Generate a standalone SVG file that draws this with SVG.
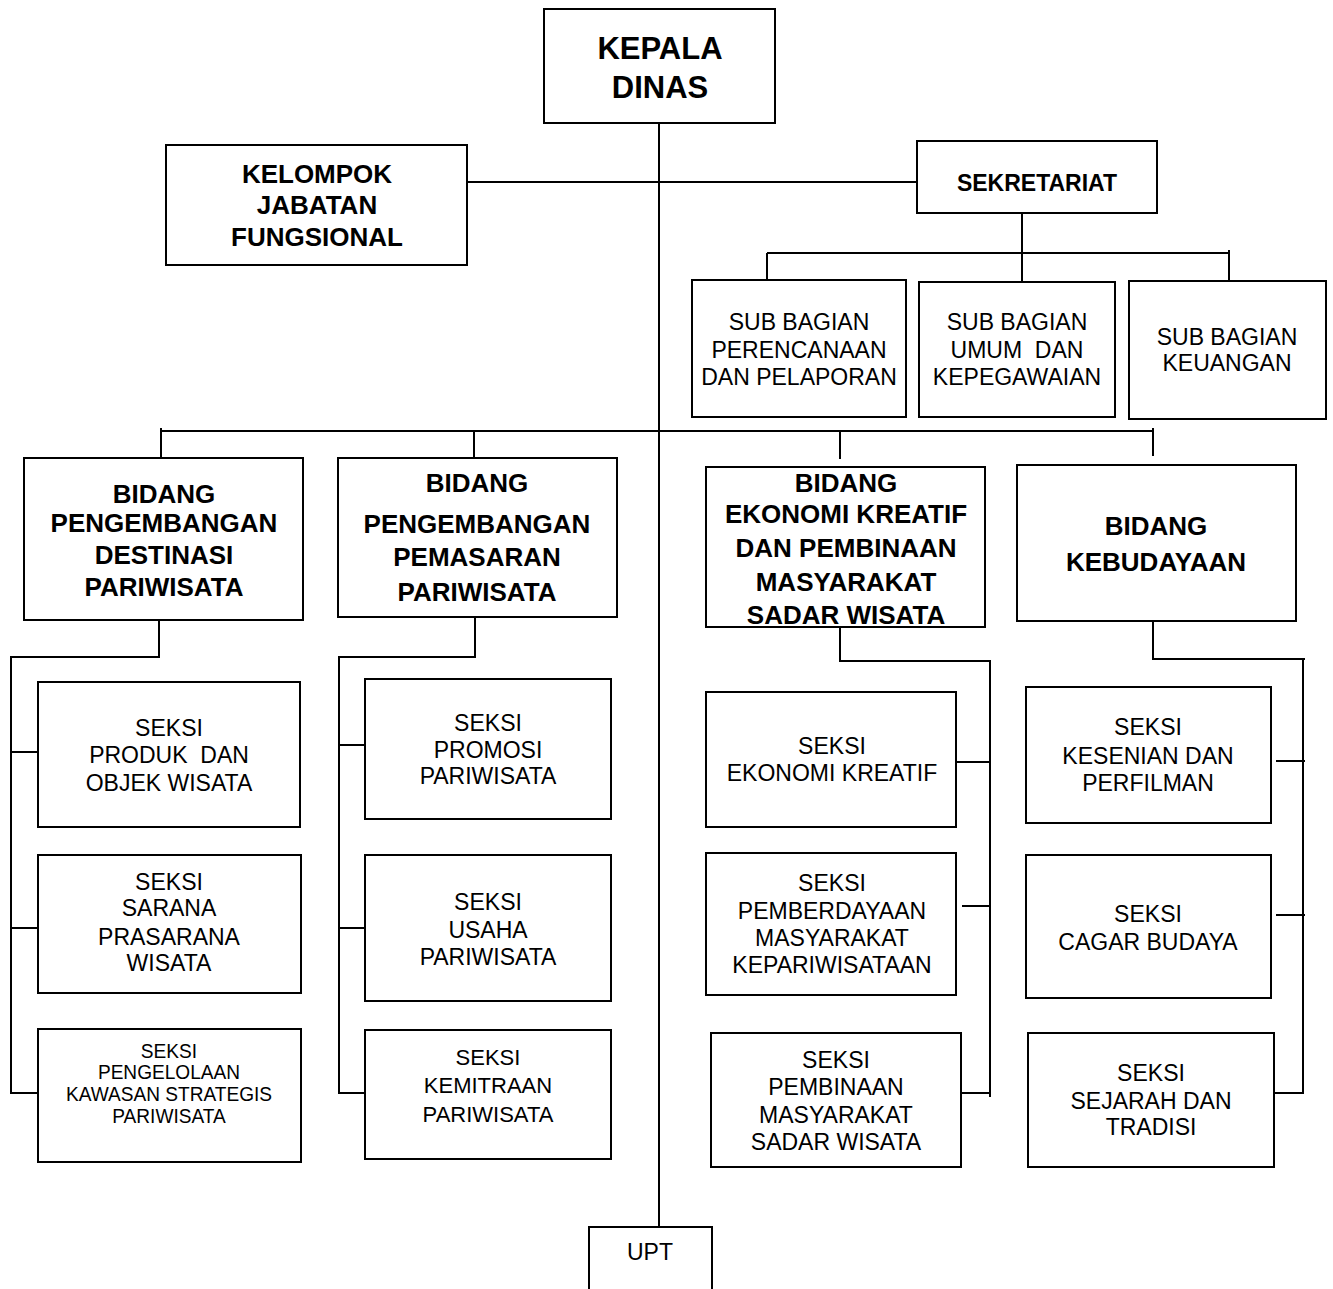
<svg xmlns="http://www.w3.org/2000/svg" width="1333" height="1289" viewBox="0 0 1333 1289">
<style>
.box{fill:#fff;stroke:#000;stroke-width:2}
.ln{fill:none;stroke:#000;stroke-width:2}
text{font-family:"Liberation Sans",Arial,sans-serif;text-anchor:middle;fill:#000;white-space:pre}
.r{font-size:23px}
.s{font-size:22px}
.xs{font-size:20px}
.b{font-size:26px;font-weight:bold}
.bs{font-size:23px;font-weight:bold}
.bl{font-size:31px;font-weight:bold}
</style>
<rect width="1333" height="1289" fill="#fff"/>
<g id="connectors" class="ln">
<path d="M659,120 V1227"/>
<path d="M467,182 H917"/>
<path d="M1022,213 V282 M767,253 H1229 M767,253 V282 M1229,250 V285"/>
<path d="M161,431 H1153 M161,428 V458 M474,431 V458 M840,431 V459 M1153,428 V456"/>
<path d="M159,620 V657 H11 V1093 H38 M11,752 H38 M11,928 H38"/>
<path d="M475,617 V657 H339 V1093 H365 M339,745 H365 M339,928 H365"/>
<path d="M840,627 V661 H990 V1097 M956,762 H990 M962,906 H990 M962,1093 H990"/>
<path d="M1153,621 V659 H1305 M1303,659 V1093 H1274 M1276,761 H1305 M1276,915 H1305"/>
</g>
<g id="kepala"><rect class="box" x="544" y="9" width="231" height="114"/><text class="bl" x="660" y="59">KEPALA</text><text class="bl" x="660" y="98">DINAS</text></g>
<g id="kelompok"><rect class="box" x="166" y="145" width="301" height="120"/><text class="b" x="317" y="183">KELOMPOK</text><text class="b" x="317" y="214">JABATAN</text><text class="b" x="317" y="246">FUNGSIONAL</text></g>
<g id="sekretariat"><rect class="box" x="917" y="141" width="240" height="72"/><text class="bs" x="1037" y="191">SEKRETARIAT</text></g>
<g id="sub1"><rect class="box" x="692" y="280" width="214" height="137"/><text class="r" x="799" y="330">SUB BAGIAN</text><text class="r" x="799" y="358">PERENCANAAN</text><text class="r" x="799" y="385">DAN PELAPORAN</text></g>
<g id="sub2"><rect class="box" x="919" y="282" width="196" height="135"/><text class="r" x="1017" y="330">SUB BAGIAN</text><text class="r" x="1017" y="358">UMUM  DAN</text><text class="r" x="1017" y="385">KEPEGAWAIAN</text></g>
<g id="sub3"><rect class="box" x="1129" y="281" width="197" height="138"/><text class="r" x="1227" y="345">SUB BAGIAN</text><text class="r" x="1227" y="371">KEUANGAN</text></g>
<g id="bidang1"><rect class="box" x="24" y="458" width="279" height="162"/><text class="b" x="164" y="503">BIDANG</text><text class="b" x="164" y="532">PENGEMBANGAN</text><text class="b" x="164" y="564">DESTINASI</text><text class="b" x="164" y="596">PARIWISATA</text></g>
<g id="bidang2"><rect class="box" x="338" y="458" width="279" height="159"/><text class="b" x="477" y="492">BIDANG</text><text class="b" x="477" y="533">PENGEMBANGAN</text><text class="b" x="477" y="566">PEMASARAN</text><text class="b" x="477" y="601">PARIWISATA</text></g>
<g id="bidang3"><rect class="box" x="706" y="467" width="279" height="160"/><text class="b" x="846" y="492">BIDANG</text><text class="b" x="846" y="523">EKONOMI KREATIF</text><text class="b" x="846" y="557">DAN PEMBINAAN</text><text class="b" x="846" y="591">MASYARAKAT</text><text class="b" x="846" y="624">SADAR WISATA</text></g>
<g id="bidang4"><rect class="box" x="1017" y="465" width="279" height="156"/><text class="b" x="1156" y="535">BIDANG</text><text class="b" x="1156" y="571">KEBUDAYAAN</text></g>
<g id="seksi-produk"><rect class="box" x="38" y="682" width="262" height="145"/><text class="r" x="169" y="736">SEKSI</text><text class="r" x="169" y="763">PRODUK  DAN</text><text class="r" x="169" y="791">OBJEK WISATA</text></g>
<g id="seksi-sarana"><rect class="box" x="38" y="855" width="263" height="138"/><text class="r" x="169" y="890">SEKSI</text><text class="r" x="169" y="916">SARANA</text><text class="r" x="169" y="945">PRASARANA</text><text class="r" x="169" y="971">WISATA</text></g>
<g id="seksi-pengelolaan"><rect class="box" x="38" y="1029" width="263" height="133"/><g transform="translate(169,0) scale(0.955,1) translate(-169,0)"><text class="xs" x="169" y="1058">SEKSI</text><text class="xs" x="169" y="1079">PENGELOLAAN</text><text class="xs" x="169" y="1101">KAWASAN STRATEGIS</text><text class="xs" x="169" y="1123">PARIWISATA</text></g></g>
<g id="seksi-promosi"><rect class="box" x="365" y="679" width="246" height="140"/><text class="r" x="488" y="731">SEKSI</text><text class="r" x="488" y="758">PROMOSI</text><text class="r" x="488" y="784">PARIWISATA</text></g>
<g id="seksi-usaha"><rect class="box" x="365" y="855" width="246" height="146"/><text class="r" x="488" y="910">SEKSI</text><text class="r" x="488" y="938">USAHA</text><text class="r" x="488" y="965">PARIWISATA</text></g>
<g id="seksi-kemitraan"><rect class="box" x="365" y="1030" width="246" height="129"/><text class="s" x="488" y="1065">SEKSI</text><text class="s" x="488" y="1093">KEMITRAAN</text><text class="s" x="488" y="1122">PARIWISATA</text></g>
<g id="seksi-ekraf"><rect class="box" x="706" y="692" width="250" height="135"/><text class="r" x="832" y="754">SEKSI</text><text class="r" x="832" y="781">EKONOMI KREATIF</text></g>
<g id="seksi-pemberdayaan"><rect class="box" x="706" y="853" width="250" height="142"/><text class="r" x="832" y="891">SEKSI</text><text class="r" x="832" y="919">PEMBERDAYAAN</text><text class="r" x="832" y="946">MASYARAKAT</text><text class="r" x="832" y="973">KEPARIWISATAAN</text></g>
<g id="seksi-pembinaan"><rect class="box" x="711" y="1033" width="250" height="134"/><text class="r" x="836" y="1068">SEKSI</text><text class="r" x="836" y="1095">PEMBINAAN</text><text class="r" x="836" y="1123">MASYARAKAT</text><text class="r" x="836" y="1150">SADAR WISATA</text></g>
<g id="seksi-kesenian"><rect class="box" x="1026" y="687" width="245" height="136"/><text class="r" x="1148" y="735">SEKSI</text><text class="r" x="1148" y="764">KESENIAN DAN</text><text class="r" x="1148" y="791">PERFILMAN</text></g>
<g id="seksi-cagar"><rect class="box" x="1026" y="855" width="245" height="143"/><text class="r" x="1148" y="922">SEKSI</text><text class="r" x="1148" y="950">CAGAR BUDAYA</text></g>
<g id="seksi-sejarah"><rect class="box" x="1028" y="1033" width="246" height="134"/><text class="r" x="1151" y="1081">SEKSI</text><text class="r" x="1151" y="1109">SEJARAH DAN</text><text class="r" x="1151" y="1135">TRADISI</text></g>
<g id="upt"><path class="ln" d="M589,1289 V1227 H712 V1289"/><text class="r" x="650" y="1260">UPT</text></g>
</svg>
